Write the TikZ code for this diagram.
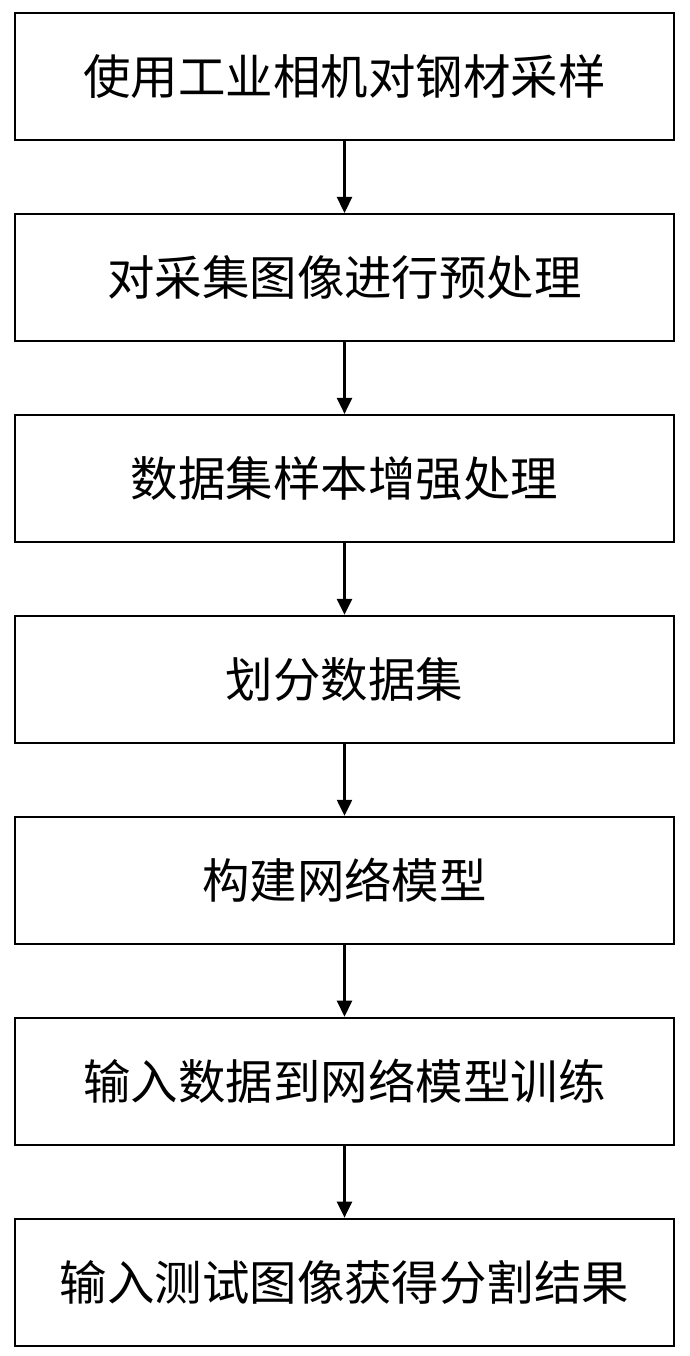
\documentclass[tikz,border=0pt]{standalone}
\usepackage{fontspec}
\setmainfont{Noto Sans CJK SC}
\usepackage{tikz}
\usetikzlibrary{positioning, arrows.meta}
\tikzset{
    box/.style={draw, rectangle, line width=1.1pt, minimum width=13.18cm, minimum height=2.54cm, inner sep=0pt, font=\fontsize{27}{32}\selectfont},
    link/.style={-{Triangle[length=0.32cm, width=0.3cm]}, line width=1.4pt}
}

\begin{document}
\begin{tikzpicture}[node distance=1.44cm]

\useasboundingbox (0,0) rectangle (13.8,-27.12);

% --- Steps ---
\node[box] (1) at (6.89,-1.53) {使用工业相机对钢材采样};
\node[box, below=of 1] (2) {对采集图像进行预处理};
\node[box, below=of 2] (3) {数据集样本增强处理};
\node[box, below=of 3] (4) {划分数据集};
\node[box, below=of 4] (5) {构建网络模型};
\node[box, below=of 5] (6) {输入数据到网络模型训练};
\node[box, below=of 6] (7) {输入测试图像获得分割结果};

% --- Arrows ---
\foreach \a/\b in {1/2, 2/3, 3/4, 4/5, 5/6, 6/7}
    \draw[link] (\a) -- (\b);

\end{tikzpicture}
\end{document}
